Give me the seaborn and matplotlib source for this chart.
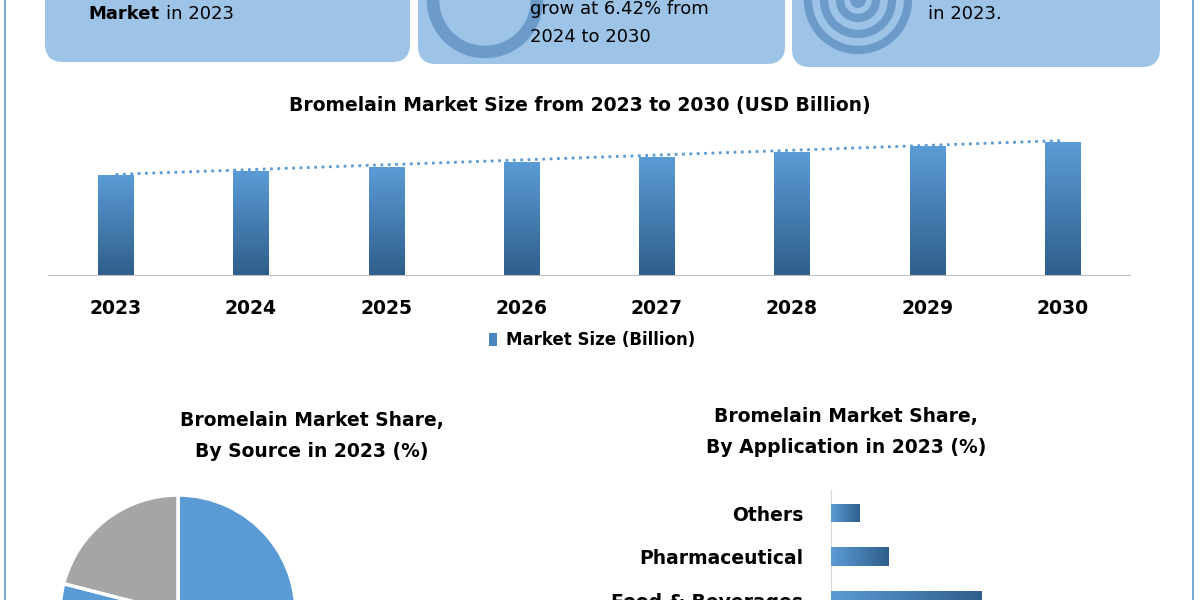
import numpy as np
import pandas as pd
import matplotlib.pyplot as plt
import seaborn as sns
from matplotlib.patches import FancyBboxPatch, Wedge, Circle, Rectangle

sns.set_style('white')
plt.rcParams['font.family'] = ['DejaVu Sans']
plt.rcParams['text.color'] = 'black'
plt.rcParams['xtick.color'] = 'black'
plt.rcParams['ytick.color'] = 'black'

years = ['2023', '2024', '2025', '2026', '2027', '2028', '2029', '2030']
market_size = [10.0, 10.4, 10.8, 11.3, 11.8, 12.3, 12.9, 13.3]
source_share = [55, 24, 21]
app_labels = ['Others', 'Pharmaceutical', 'Food & Beverages']
app_share = [9, 18, 47]

W, H = 1200, 600
fig = plt.figure(figsize=(12, 6), dpi=100)


def px_axes(x0, y0, x1, y1, **kw):
    return fig.add_axes([x0 / W, 1 - y1 / H, (x1 - x0) / W, (y1 - y0) / H], **kw)


# background layer for boxes and free text
bg = px_axes(0, 0, W, H)
bg.set_xlim(0, W)
bg.set_ylim(H, 0)
bg.axis('off')
bg.add_patch(Rectangle((5, -10), 1188, 700, fill=False, ec='#5b9bd5', lw=1.2))
for x0, x1, yb in [(45, 410, 62), (418, 785, 64), (792, 1160, 67)]:
    bg.add_patch(FancyBboxPatch((x0, -60), x1 - x0, yb + 60,
                                boxstyle='round,pad=0,rounding_size=18',
                                fc='#9dc3e6', ec='none'))
# icons
bg.add_patch(Circle((485, 0), 52, fc='none', ec='#6d9bc9', lw=9))
bg.add_patch(Wedge((485, 0), 40, 270, 360, fc='#6d9bc9', ec='none'))
for r in [50, 34, 18]:
    bg.add_patch(Circle((858, 0), r, fc='none', ec='#6d9bc9', lw=6))
bg.add_patch(Circle((858, 0), 8, fc='#6d9bc9', ec='none'))
bg.text(88, 14, 'Market', fontsize=13, fontweight='bold', va='center')
bg.text(166, 14, 'in 2023', fontsize=13, va='center')
bg.text(530, 9, 'grow at 6.42% from', fontsize=13, va='center')
bg.text(530, 37, '2024 to 2030', fontsize=13, va='center')
bg.text(928, 14, 'in 2023.', fontsize=13, va='center')

bg.text(580, 105, 'Bromelain Market Size from 2023 to 2030 (USD Billion)',
        fontsize=13.5, fontweight='bold', ha='center', va='center')
bg.text(312, 436, 'Bromelain Market Share,\nBy Source in 2023 (%)', fontsize=13.5,
        fontweight='bold', ha='center', va='center', linespacing=1.75)
bg.text(846, 432, 'Bromelain Market Share,\nBy Application in 2023 (%)', fontsize=13.5,
        fontweight='bold', ha='center', va='center', linespacing=1.75)
bg.add_patch(Rectangle((489, 333), 8, 13, fc='#4a86c0', ec='none'))
bg.text(506, 340, 'Market Size (Billion)', fontsize=12, fontweight='bold', va='center')


def gradient_fill(ax, patch, c0, c1, vertical=True):
    b = patch.get_bbox()
    grad = np.linspace(0, 1, 100)
    grad = grad[:, None] if vertical else grad[None, :]
    cmap = sns.blend_palette([c0, c1], as_cmap=True)
    im = ax.imshow(grad, extent=[b.x0, b.x1, b.y0, b.y1], cmap=cmap,
                   aspect='auto', origin='upper' if vertical else 'lower', zorder=3)
    im.set_clip_path(patch)


# main bar chart
ax = px_axes(48, 120, 1130, 275)
df = pd.DataFrame({'year': years, 'size': market_size})
sns.barplot(data=df, x='year', y='size', width=0.26, color='#5b9bd5', ax=ax)
xl = ax.get_xlim()
for p in ax.patches:
    gradient_fill(ax, p, '#5b9bd5', '#2f5f8c')
ax.set_xlim(xl)
ax.set_ylim(0, 15.5)
fit = np.polyfit(np.arange(len(years)), market_size, 1)
ax.plot(np.arange(len(years)), np.polyval(fit, np.arange(len(years))) + 0.15,
        ls=':', color='#5b9bd5', lw=2, zorder=4)
for s in ['top', 'right', 'left']:
    ax.spines[s].set_visible(False)
ax.spines['bottom'].set_color('#bfbfbf')
ax.set_yticks([])
ax.set_xlabel('')
ax.set_ylabel('')
ax.set_xticks(np.arange(-0.5, len(years)), minor=True)
ax.tick_params(axis='x', which='minor', length=10, color='#bfbfbf', direction='out')
ax.tick_params(axis='x', which='major', length=0, pad=17, labelsize=13.5)
for t in ax.get_xticklabels():
    t.set_fontweight('bold')

# pie
pie_ax = px_axes(178 - 118, 613 - 118, 178 + 118, 613 + 118)
pie_ax.pie(source_share, colors=['#5b9bd5', '#5b9bd5', '#a5a5a5'], startangle=90,
           counterclock=False, wedgeprops=dict(ec='white', lw=2.5))
pie_ax.set_xlim(-1, 1)
pie_ax.set_ylim(-1, 1)

# horizontal bars
hx = px_axes(831, 490, 1151, 600)
adf = pd.DataFrame({'app': app_labels, 'share': app_share})
sns.barplot(data=adf, y='app', x='share', orient='h', width=0.42, color='#5b9bd5', ax=hx)
for p in hx.patches:
    gradient_fill(hx, p, '#5b9bd5', '#2f5f8c', vertical=False)
hx.set_xlim(0, 100)
hx.set_ylim(2.0, -0.53)
for s in ['top', 'right', 'bottom']:
    hx.spines[s].set_visible(False)
hx.spines['left'].set_color('#d9d9d9')
hx.set_xticks([])
hx.set_xlabel('')
hx.set_ylabel('')
hx.set_yticks([-0.5, 0.5, 1.5], minor=True)
hx.tick_params(axis='y', which='minor', length=6, color='#d9d9d9')
hx.tick_params(axis='y', which='major', length=0, pad=20, labelsize=13.5)
for t in hx.get_yticklabels():
    t.set_fontweight('bold')

fig.savefig('out.png', dpi=100)
